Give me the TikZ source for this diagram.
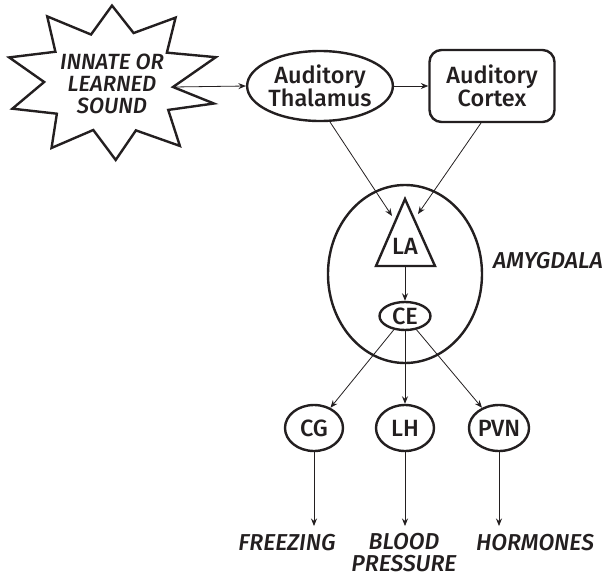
\documentclass[tikz,border=0pt]{standalone}
\usepackage{fontspec}
\setmainfont{Fira Sans}[BoldFont={Fira Sans Medium},BoldItalicFont={Fira Sans Medium Italic}]
\usetikzlibrary{arrows.meta,shapes.geometric}
\definecolor{ink}{HTML}{231F20}
\begin{document}
\begin{tikzpicture}[x=1pt,y=-1pt,
  shape line/.style={draw=ink,line width=2.4pt},
  conn/.style={draw=ink,line width=0.8pt,-{Stealth[length=7.5pt,width=6pt]}},
  lbl/.style={font=\fontsize{23}{22}\selectfont\bfseries\itshape,text=ink,align=center},
  nodetxt/.style={font=\fontsize{23.5}{23}\selectfont\bfseries,text=ink,align=center},
  oval/.style={shape line,ellipse,inner sep=0pt},
]
\useasboundingbox (0,0) rectangle (608,579);
% starburst
\draw[shape line,line join=miter,miter limit=20]
  (173,87)
  \foreach \a/\r in {16/1.0,34/0.64,52/1.04,70/0.66,88/1.0,106/0.64,124/1.02,142/0.66,160/1.0,180/0.64,198/1.02,216/0.66,234/1.04,252/0.64,270/0.98,288/0.66,306/1.02,324/0.64,342/1.03}
  { -- ({112+106*\r*cos(\a)},{82+78*\r*sin(\a)}) } -- cycle;
\node[lbl,font=\fontsize{22}{22}\selectfont\bfseries\itshape] (snd) at (112,84) {INNATE OR\\LEARNED\\SOUND};
\coordinate (sndE) at (173,87);

\node[oval,nodetxt,minimum width=130pt,minimum height=70pt] (th) at (320,86) {Auditory\\Thalamus};
\node[shape line,rounded corners=12pt,nodetxt,minimum width=125pt,minimum height=72pt] (cx) at (492,86) {Auditory\\Cortex};

\node[shape line,ellipse,minimum width=154pt,minimum height=178pt] (amy) at (405,274) {};
\node[lbl] (amyl) at (548,261) {AMYGDALA};

\draw[shape line,line join=miter] (405,199) -- (435,266) -- (376,266) -- cycle;
\node[nodetxt] (la) at (405,246) {LA};
\coordinate (laB) at (405,266);
\coordinate (laL) at (392,216);
\coordinate (laR) at (418,214);

\node[oval,nodetxt,minimum width=51pt,minimum height=28pt] (ce) at (405,316) {CE};

\node[oval,nodetxt,minimum width=58pt,minimum height=46pt] (cg) at (314,428) {CG};
\node[oval,nodetxt,minimum width=58pt,minimum height=46pt] (lh) at (405,428) {LH};
\node[oval,nodetxt,minimum width=58pt,minimum height=46pt] (pvn) at (499,428) {PVN};

\node[lbl] (frz) at (287,543) {FREEZING};
\node[lbl] (bp) at (404,553) {BLOOD\\PRESSURE};
\node[lbl] (hor) at (535,543) {HORMONES};
\coordinate (frzT) at (314,526);
\coordinate (bpT) at (405,526);
\coordinate (horT) at (499,526);

\draw[conn] (sndE) -- (th.west);
\draw[conn] (th.east) -- (cx.west);
\draw[conn] (330,122) -- (laL);
\draw[conn] (481,123) -- (laR);
\draw[conn] (laB) -- (ce.north);
\draw[conn] (ce) -- (cg);
\draw[conn] (ce) -- (lh);
\draw[conn] (ce) -- (pvn);
\draw[conn] (cg.south) -- (frzT);
\draw[conn] (lh.south) -- (bpT);
\draw[conn] (pvn.south) -- (horT);
\end{tikzpicture}
\end{document}
